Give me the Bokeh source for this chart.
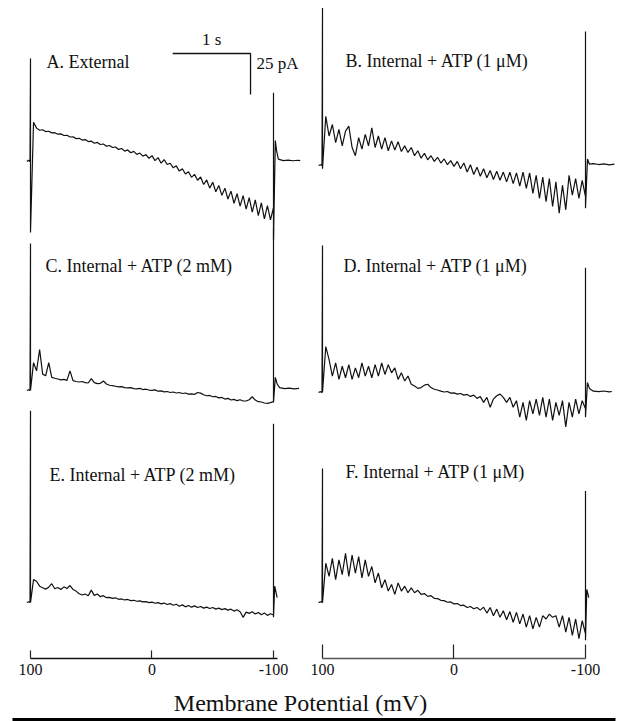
from bokeh.plotting import figure
from bokeh.layouts import column, row
from bokeh.models import Range1d, FixedTicker, Label, BoxAnnotation
from bokeh.embed import file_html
from bokeh.resources import INLINE

# ---------------- data ----------------
# ramp command potentials (mV), 97.5 ... -100 in 2.5 mV steps
RAMP_MV = [97.5 - 2.5 * i for i in range(80)]

A_ramp = [24, 20.4, 19.1, 19.4, 18.3, 18.5, 17.5, 17.6, 16.7, 16.9, 15.9, 16.0, 15.0, 15.1, 14.0, 14.2,
          13.1, 13.4, 12.2, 12.5, 11.2, 11.7, 10.4, 10.7, 9.4, 9.8, 8.6, 8.9, 7.4, 8.0, 6.4, 7.1, 5.4,
          6.2, 4.4, 5.2, 3.3, 4.3, 2.0, 3.6, 0.6, 2.4, -1.0, 1.2, -1.8, -1.0, -3.8, -2.6, -5.8, -4.4,
          -7.6, -6.2, -9.6, -7.8, -11.4, -9.4, -14.0, -11.2, -16.2, -12.6, -18.4, -14.6, -20.6,
          -16.2, -22.8, -18.0, -25.4, -19.6, -27.2, -20.8, -29.0, -22.0, -30.8, -23.4, -33.0, -25.2,
          -35.0, -26.8, -35.6, -28.0]
B_ramp = [30, 18, 25, 14, 22, 12, 21, 24, 11, 6, 17, 10, 19, 12, 23, 11, 18, 10, 17, 9, 15, 9.5,
          14.5, 8.5, 12, 8, 11, 6, 9, 4.5, 7.5, 3.5, 6, 2.5, 5, 1.5, 4, 0.5, 3, -0.5, 2.5, -2, 1.5,
          -4, 0.5, -5.5, -1, -6.5, -2, -7.5, -3, -8.5, -3.5, -9, -4, -10, -4, -11, -4.5, -12.5, -4,
          -14, -4.5, -17, -6, -20, -7, -22, -8, -25, -10, -29, -12, -27, -6, -18, -8, -20, -9, -19]
C_ramp = [17, 12, 25, 10, 9, 17, 8, 7.5, 7, 6.5, 6.8, 6.2, 12, 6, 5.5, 5.2, 5.5, 4.8, 4.6, 7.3,
          4.8, 4.2, 4.4, 5.8, 4, 3.2, 3, 2.6, 2.2, 2.4, 1.8, 1.6, 1.8, 1.2, 1.0, 1.3, 0.6, 0.8, 0.3,
          0.1, 0.4, -0.4, -0.2, -0.8, -0.6, -1.2, -0.9, -1.5, -1.2, -1.8, -1.5, -2.2, -2.0, -2.4,
          -1.2, -1.6, -2.6, -3.2, -3.0, -3.8, -3.6, -4.5, -4.2, -5.2, -4.8, -5.8, -5.4, -6.2, -5.6,
          -6.4, -6.4, -5.6, -3.8, -5.8, -6.8, -7.0, -7.6, -7.8, -7.4, -6.8]
D_ramp = [28, 20, 10, 18, 8, 16, 9, 17, 8, 15, 9, 18, 10, 16, 9, 17, 10, 18, 11, 17, 12, 15, 8, 12,
          7, 10, 5, 4, 2.5, 3, 4.5, 5, 3, 2, 1.5, 0.8, 0.3, 0.6, -0.4, -0.2, -1.0, -0.6, -1.6, -1.2,
          -2.4, -1.6, -3.6, -2.5, -6, -3, -9, -4, -2, -1, -3, -6, -3, -9, -5, -15, -6, -17, -5, -13,
          -4, -14, -3, -15, -4, -17, -6, -14, -5, -21, -6, -15, -4, -13, -5, -10]
E_ramp = [14, 13, 10, 9, 8.2, 9.4, 11.5, 8.4, 9.2, 8.0, 9.6, 8.6, 10.4, 8.0, 7.0, 5.4, 4.6, 5.2,
          4.2, 7.6, 4.4, 5.2, 3.6, 4.2, 3.0, 3.2, 2.6, 2.9, 2.0, 2.2, 1.6, 1.9, 1.2, 1.4, 0.8, 1.0,
          0.4, 0.6, 0.0, 0.3, -0.4, 0.0, -0.8, -0.3, -1.2, -0.6, -1.6, -1.0, -2.2, -1.4, -2.6, -1.8,
          -2.8, -2.0, -3.0, -2.4, -3.4, -2.8, -3.6, -3.0, -4.0, -3.4, -4.3, -3.7, -4.6, -4.0, -5.2,
          -4.4, -5.6, -9.0, -5.8, -6.6, -5.6, -7.0, -6.0, -7.4, -6.4, -7.8, -6.8, -7.6]
F_ramp = [24, 16, 27, 14, 26, 17, 30, 16, 29, 18, 28, 15, 26, 16, 22, 12, 18, 9, 14, 7, 11, 5, 12,
          7, 10, 6, 9, 6, 7.5, 5, 5.5, 3.8, 4.2, 2.6, 2.4, 1.4, 1.2, 0.2, 0.4, -0.8, -0.6, -1.8,
          -1.6, -3.0, -2.4, -3.8, -3.0, -4.6, -2.8, -6.4, -3.0, -8.0, -4.0, -9.0, -5.0, -10.5, -5.5,
          -12, -6, -13, -7, -15, -8, -16, -9, -15, -8, -10, -7, -9, -8, -15, -8, -18, -9, -20, -10,
          -22, -11, -19]

# capacitive transients at ramp onset (+100 mV) and offset (-100 mV), pA
A_on, A_off = [62.8, -43.3], [42, -48]
B_on, B_off = [96, -2], [81.7, -26]
C_on, C_off = [89.6, 0], [98.8, -7.3]
D_on, D_off = [89.6, 0], [76, -15]
E_on, E_off = [117, 0], [109, -9]
F_on, F_off = [81.7, 0], [68, -23]

# holding segments before and after the ramp
PRE_MV = [103, 101.5, 100.4]
A_pre, B_pre, C_pre, D_pre, E_pre, F_pre = ([0, 0.8, 0], [0, 0.5, 0], [0, 0.5, 0],
                                            [0, 0.5, 0], [0, 0.5, 0], [0, 0.5, 0])
A_post_mV = [-101.5, -102.5, -104, -108, -112, -116, -120, -122]
A_post = [12.8, 6.7, 1.5, 0.6, 0.9, 0.5, 0.8, 0.6]
B_post_mV = [-101.5, -103, -106, -110, -114, -118, -122]
B_post = [4, 0.8, 1.2, 0.6, 1.0, 0.4, 0.8]
C_post_mV = [-101.5, -103, -105, -109, -113, -117, -121]
C_post = [8, 4, 1.8, 1.2, 1.5, 1.0, 1.3]
D_post_mV = [-101.5, -103, -106, -110, -114, -118, -120]
D_post = [6, 2.5, 0.8, 0.5, 0.9, 0.4, 0.6]
E_post_mV = [-101, -103]
E_post = [10, 3]
F_post_mV = [-101, -102.5]
F_post = [8, 3]

LABELS = ["A. External", "B. Internal + ATP (1 \u03bcM)", "C. Internal + ATP (2 mM)",
          "D. Internal + ATP (1 \u03bcM)", "E. Internal + ATP (2 mM)", "F. Internal + ATP (1 \u03bcM)"]
TICKS = [100, 0, -100]
TICK_LABELS = {100: "100", 0: "0", -100: "-100"}
AXIS_TITLE = "Membrane Potential (mV)"
SCALE_T_S = 1          # seconds
SCALE_I_PA = 25        # pA
RAMP_MV_PER_S = 64     # ramp speed (200 mV in ~3.1 s)

# ---------------- layout constants ----------------
FONT = "Liberation Serif"
PX_PER_PA = 1.64
FRAME_H = 658
Y_TOP = FRAME_H / PX_PER_PA
LEFT_OFFS = [303.0, 163.4, 34.1]      # A, C, E baselines
RIGHT_OFFS = [300.6, 162.2, 34.1]     # B, D, F baselines


def trace(pre, on, ramp, off, post_mv, post):
    xs = PRE_MV + [100] * len(on) + RAMP_MV + [-100] * len(off) + post_mv
    ys = pre + on + ramp + off + post
    return xs, ys


def make_col(width, xr, offs, traces, labels, label_pos, tick_len, axis_color, bounds):
    p = figure(width=width, height=FRAME_H + 28, x_range=xr, y_range=Range1d(0, Y_TOP),
               output_backend="svg", toolbar_location=None, y_axis_location=None,
               min_border_left=0, min_border_right=0, min_border_top=0, min_border_bottom=28,
               outline_line_color=None, background_fill_color="white")
    p.xgrid.visible = False
    p.ygrid.visible = False
    for off, (xs, ys) in zip(offs, traces):
        p.line(xs, [off + v for v in ys], line_color="#111111", line_width=1.2)
    for (lx, ly), txt in zip(label_pos, labels):
        p.add_layout(Label(x=lx, y=ly, text=txt, text_font=FONT, text_font_size="18px",
                           text_baseline="middle", text_align="left", text_color="#111111"))
    ax = p.xaxis[0]
    ax.ticker = FixedTicker(ticks=TICKS)
    ax.major_label_overrides = TICK_LABELS
    ax.major_tick_in = tick_len
    ax.major_tick_out = 0
    ax.minor_tick_in = 0
    ax.minor_tick_out = 0
    ax.axis_line_color = axis_color
    ax.axis_line_width = 1.3
    ax.major_tick_line_color = "#222222"
    ax.major_tick_line_width = 1.2
    ax.major_label_text_font = FONT
    ax.major_label_text_font_size = "16px"
    ax.major_label_text_color = "#111111"
    ax.major_label_standoff = 5
    ax.bounds = bounds
    return p


left_traces = [trace(A_pre, A_on, A_ramp, A_off, A_post_mV, A_post),
               trace(C_pre, C_on, C_ramp, C_off, C_post_mV, C_post),
               trace(E_pre, E_on, E_ramp, E_off, E_post_mV, E_post)]
right_traces = [trace(B_pre, B_on, B_ramp, B_off, B_post_mV, B_post),
                trace(D_pre, D_on, D_ramp, D_off, D_post_mV, D_post),
                trace(F_pre, F_on, F_ramp, F_off, F_post_mV, F_post)]

left = make_col(306, Range1d(124.69, -127.16), LEFT_OFFS, left_traces,
                [LABELS[0], LABELS[2], LABELS[4]],
                [(86.8, 364.0), (87.7, 239.6), (84.4, 111.6)], 8, "#111111", (-103, 100))
right = make_col(316, Range1d(112.17, -128.14), RIGHT_OFFS, right_traces,
                 [LABELS[1], LABELS[3], LABELS[5]],
                 [(82.5, 364.6), (84.0, 239.6), (82.5, 114.0)], 14, "#555555", (-100, 100))

# scale bar in panel A
sb_x0 = -81.1
sb_y0 = LEFT_OFFS[0] + 65.9
left.line([sb_x0 + SCALE_T_S * RAMP_MV_PER_S, sb_x0, sb_x0],
          [sb_y0, sb_y0, sb_y0 - SCALE_I_PA], line_color="#111111", line_width=1.3)
left.add_layout(Label(x=sb_x0 + SCALE_T_S * RAMP_MV_PER_S / 2, y=sb_y0 + 8.5, text="1 s",
                      text_font=FONT, text_font_size="17px", text_align="center",
                      text_baseline="middle", text_color="#111111"))
left.add_layout(Label(x=-86, y=LEFT_OFFS[0] + 60.1, text="25 pA", text_font=FONT,
                      text_font_size="17px", text_align="left", text_baseline="middle",
                      text_color="#111111"))

# bottom title and rule
bottom = figure(width=622, height=35, x_range=Range1d(0, 1), y_range=Range1d(0, 35),
                output_backend="svg", toolbar_location=None, x_axis_location=None,
                y_axis_location=None, min_border_left=0, min_border_right=0, min_border_top=0,
                min_border_bottom=0, outline_line_color=None)
bottom.xgrid.visible = False
bottom.ygrid.visible = False
bottom.add_layout(Label(x=300 / 622, y=19, text=AXIS_TITLE, text_font=FONT,
                        text_font_size="24px", text_align="center", text_baseline="middle",
                        text_color="#111111"))
bottom.add_layout(BoxAnnotation(left=12 / 622, right=615 / 622, bottom=0, top=3.5,
                                fill_color="black", fill_alpha=1, line_color=None))

layout = column(row(left, right, spacing=0), bottom, spacing=0)
open("out.html", "w").write(file_html(layout, INLINE))
